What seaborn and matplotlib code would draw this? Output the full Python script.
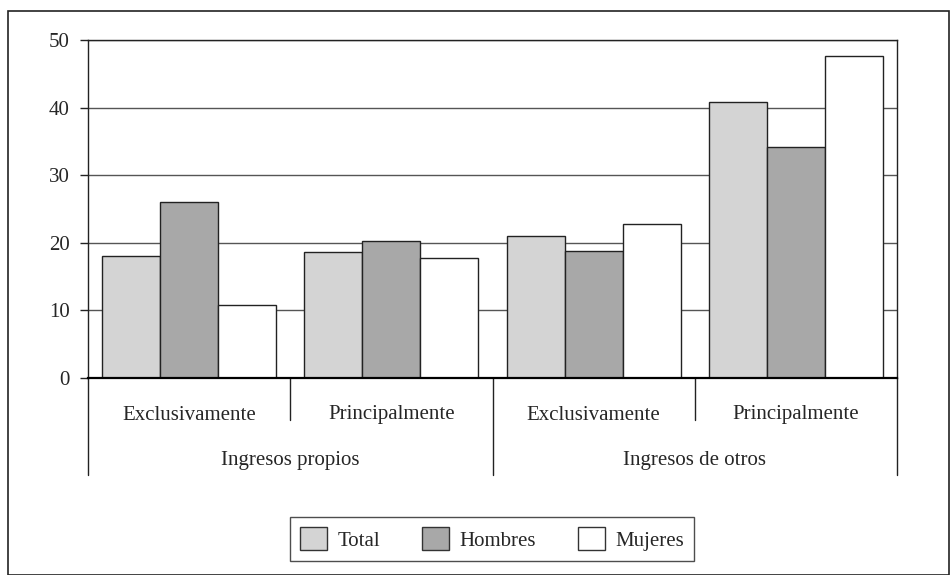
import matplotlib
matplotlib.use("Agg")
import matplotlib.pyplot as plt
import matplotlib.transforms as mtransforms
from matplotlib.patches import Patch, Rectangle
import seaborn as sns
import pandas as pd

# ---- data ----
subcats = ["Exclusivamente", "Principalmente", "Exclusivamente", "Principalmente"]
groups = ["Ingresos propios", "Ingresos de otros"]
series = ["Total", "Hombres", "Mujeres"]
total = [18.1, 18.6, 21.0, 40.9]
hombres = [26.0, 20.2, 18.8, 34.1]
mujeres = [10.8, 17.8, 22.8, 47.7]
yticks = [0, 10, 20, 30, 40, 50]

colors = {"Total": "#d4d4d4", "Hombres": "#a8a8a8", "Mujeres": "#ffffff"}

keys = [f"{g}|{s}" for g, subs in zip(groups, [subcats[:2], subcats[2:]]) for s in subs]
rows = []
for name, vals in zip(series, [total, hombres, mujeres]):
    for k, v in zip(keys, vals):
        rows.append({"cat": k, "serie": name, "valor": v})
df = pd.DataFrame(rows)

sns.set_style("white")
plt.rcParams["font.family"] = ["Liberation Serif", "DejaVu Serif"]

fig = plt.figure(figsize=(9.5, 5.75), dpi=100)
W, H = 950, 575
ax = fig.add_axes([88 / W, 1 - 378 / H, (897 - 88) / W, (378 - 40) / H])

sns.barplot(data=df, x="cat", y="valor", hue="serie", order=keys, hue_order=series,
            palette=colors, width=0.86, gap=0, edgecolor="#222222", linewidth=1.0,
            ax=ax, legend=False)

ax.set_ylim(0, 50)
ax.set_xlim(-0.5, 3.5)
ax.set_yticks(yticks)
ax.set_yticklabels([str(t) for t in yticks], fontsize=15)
ax.tick_params(axis="y", length=6, width=1, color="#222222", pad=7, left=True)
ax.tick_params(axis="x", length=0, labelbottom=False)
ax.set_xlabel("")
ax.set_ylabel("")
ax.set_axisbelow(True)
ax.grid(axis="y", color="#555555", linewidth=1.0)
for sp in ax.spines.values():
    sp.set_visible(True)
    sp.set_color("#222222")
    sp.set_linewidth(1.0)
ax.spines["bottom"].set_linewidth(1.6)
ax.spines["bottom"].set_color("black")

# category axis separators and labels
trans = mtransforms.blended_transform_factory(ax.transData, ax.transAxes)
short_y = -(420 - 378) / 338
long_y = -(475 - 378) / 338
for xb in [-0.5, 1.5, 3.5]:
    ax.plot([xb, xb], [0, long_y], transform=trans, color="#222222", lw=1.0, clip_on=False)
for xb in [0.5, 2.5]:
    ax.plot([xb, xb], [0, short_y], transform=trans, color="#222222", lw=1.0, clip_on=False)

sub_y = -(415 - 378) / 338
grp_y = -(461 - 378) / 338
for i, s in enumerate(subcats):
    ax.text(i, sub_y, s, transform=trans, ha="center", va="center", fontsize=15)
for j, g in enumerate(groups):
    ax.text(0.5 + 2 * j, grp_y, g, transform=trans, ha="center", va="center", fontsize=15)

# legend
handles = [Patch(facecolor=colors[s], edgecolor="#333333", linewidth=1.0, label=s) for s in series]
leg = fig.legend(handles=handles, loc="center", bbox_to_anchor=(492 / W, 1 - 539 / H),
                 ncol=3, frameon=True, fancybox=False, fontsize=15,
                 handlelength=1.3, handleheight=1.3, handletextpad=0.5,
                 columnspacing=2.0, borderpad=0.5)
leg.get_frame().set_edgecolor("#222222")
leg.get_frame().set_linewidth(1.0)

# figure frame
fig.patches.append(Rectangle((8 / W, 0.0), (949 - 8) / W, 1 - 10 / H - 0.001,
                             transform=fig.transFigure, fill=False,
                             edgecolor="#222222", linewidth=1.2))

fig.savefig("out.png", dpi=100)
